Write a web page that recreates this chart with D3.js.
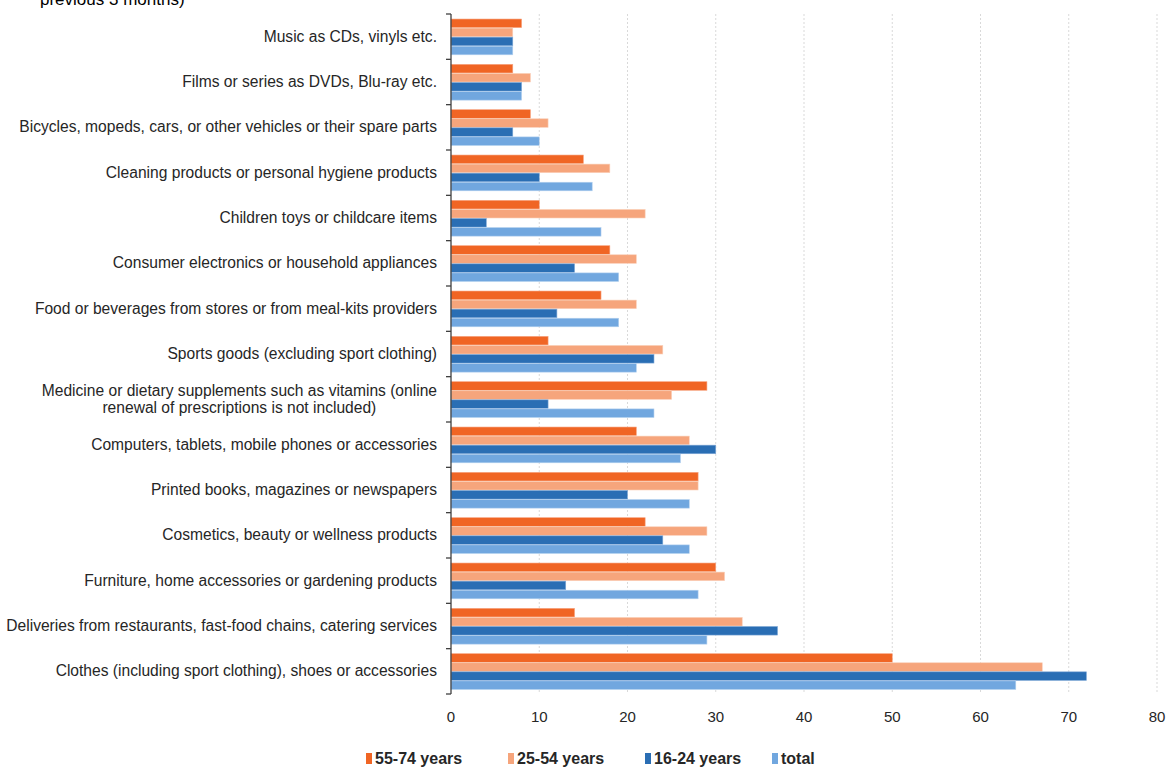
<!DOCTYPE html>
<html>
<head>
<meta charset="utf-8">
<script src="https://cdn.jsdelivr.net/npm/d3@7/dist/d3.min.js"></script>
<style>
  html, body { margin: 0; padding: 0; background: #fff; }
  svg { display: block; }
  text { font-family: "Liberation Sans", Arial, sans-serif; }
</style>
</head>
<body>
<svg id="chart" width="1172" height="767"></svg>
<script>
// Product categories (top to bottom); "|" marks a line break
const categories = [
  "Music as CDs, vinyls etc.",
  "Films or series as DVDs, Blu-ray etc.",
  "Bicycles, mopeds, cars, or other vehicles or their spare parts",
  "Cleaning products or personal hygiene products",
  "Children toys or childcare items",
  "Consumer electronics or household appliances",
  "Food or beverages from stores or from meal-kits providers",
  "Sports goods (excluding sport clothing)",
  "Medicine or dietary supplements such as vitamins (online|renewal of prescriptions is not included)",
  "Computers, tablets, mobile phones or accessories",
  "Printed books, magazines or newspapers",
  "Cosmetics, beauty or wellness products",
  "Furniture, home accessories or gardening products",
  "Deliveries from restaurants, fast-food chains, catering services",
  "Clothes (including sport clothing), shoes or accessories"
];

const seriesNames = ["55-74 years", "25-54 years", "16-24 years", "total"];

// Share of internet users (%) per category
const age55to74 = [8, 7, 9, 15, 10, 18, 17, 11, 29, 21, 28, 22, 30, 14, 50];
const age25to54 = [7, 9, 11, 18, 22, 21, 21, 24, 25, 27, 28, 29, 31, 33, 67];
const age16to24 = [7, 8, 7, 10, 4, 14, 12, 23, 11, 30, 20, 24, 13, 37, 72];
const totalAll  = [7, 8, 10, 16, 17, 19, 19, 21, 23, 26, 27, 27, 28, 29, 64];

const xTicks = [0, 10, 20, 30, 40, 50, 60, 70, 80];

const seriesValues = [age55to74, age25to54, age16to24, totalAll];
const colors = ["#F06524", "#F6A57C", "#2A6EB4", "#71A7DF"];
const strokes = ["#F7A27F", "#FAD0BA", "#7FA8D6", "#B4D1EF"];

const svg = d3.select("#chart");
const plotTop = 14, plotBottom = 694;
const labelRight = 437;
const labelSize = 15.6;

const x = d3.scaleLinear().domain([0, 80]).range([451, 1157]);
const y = d3.scaleBand().domain(categories).range([plotTop, plotBottom])
  .paddingInner(0.2).paddingOuter(0.1);
const ySub = d3.scaleBand().domain(d3.range(4)).range([0, y.bandwidth()]);

// Heading (last line)
svg.append("text")
  .attr("x", 40).attr("y", 5)
  .attr("font-size", 17).attr("fill", "#000")
  .text("previous 3 months)");

// Vertical gridlines
svg.append("g").selectAll("line")
  .data(xTicks.filter(d => d > 0))
  .join("line")
  .attr("x1", d => x(d)).attr("x2", d => x(d))
  .attr("y1", plotTop).attr("y2", plotBottom)
  .attr("stroke", "#d9d9d9").attr("stroke-width", 1)
  .attr("stroke-dasharray", "2,2");

// Bars
const rows = categories.map((c, i) => ({ c, i }));
const groups = svg.append("g").selectAll("g")
  .data(rows).join("g")
  .attr("transform", d => `translate(0,${y(d.c)})`);

groups.selectAll("rect")
  .data(d => seriesValues.map((vals, s) => ({ s, v: vals[d.i] })))
  .join("rect")
  .attr("x", x(0))
  .attr("y", d => ySub(d.s) + 0.5)
  .attr("width", d => x(d.v) - x(0))
  .attr("height", ySub.bandwidth() - 0.5)
  .attr("fill", d => colors[d.s])
  .attr("stroke", d => strokes[d.s])
  .attr("stroke-width", 0.6);

// Left axis with outward tick marks at band boundaries
const axisG = svg.append("g");
axisG.append("line")
  .attr("x1", x(0)).attr("x2", x(0))
  .attr("y1", plotTop).attr("y2", plotBottom)
  .attr("stroke", "#404040").attr("stroke-width", 1.3);
const boundaries = d3.range(categories.length + 1).map(i => plotTop + i * y.step());
axisG.selectAll("line.tick")
  .data(boundaries).join("line")
  .attr("class", "tick")
  .attr("x1", x(0) - 5).attr("x2", x(0))
  .attr("y1", d => d).attr("y2", d => d)
  .attr("stroke", "#404040").attr("stroke-width", 1.3);

// Category labels: right-aligned block, extra lines centred under the first
const labelG = svg.append("g");
categories.forEach(d => {
  const parts = d.split("|");
  const cy = y(d) + y.bandwidth() / 2;
  const lh = 17;
  const first = labelG.append("text")
    .attr("x", labelRight)
    .attr("y", cy + 5 - (parts.length - 1) / 2 * lh)
    .attr("text-anchor", "end")
    .attr("font-size", labelSize)
    .attr("fill", "#262626")
    .text(parts[0]);
  const w = first.node().getComputedTextLength();
  parts.slice(1).forEach((p, k) => {
    labelG.append("text")
      .attr("x", labelRight - w / 2)
      .attr("y", cy + 5 + (k + 1 - (parts.length - 1) / 2) * lh)
      .attr("text-anchor", "middle")
      .attr("font-size", labelSize)
      .attr("fill", "#262626")
      .text(p);
  });
});

// X tick labels
svg.append("g").selectAll("text")
  .data(xTicks).join("text")
  .attr("x", d => x(d))
  .attr("y", 722)
  .attr("text-anchor", "middle")
  .attr("font-size", 15)
  .attr("fill", "#262626")
  .text(d => d);

// Legend
const legendX = [366, 508, 645, 772];
const legend = svg.append("g").selectAll("g")
  .data(seriesNames).join("g")
  .attr("transform", (d, i) => `translate(${legendX[i]},0)`);
legend.append("rect")
  .attr("x", 0).attr("y", 753).attr("width", 6).attr("height", 11)
  .attr("fill", (d, i) => colors[i]);
legend.append("text")
  .attr("x", 9).attr("y", 764)
  .attr("font-family", "'Liberation Sans Narrow', 'Arial Narrow', sans-serif")
  .attr("font-weight", "bold")
  .attr("font-size", 16)
  .attr("fill", "#262626")
  .text(d => d);
</script>
</body>
</html>
